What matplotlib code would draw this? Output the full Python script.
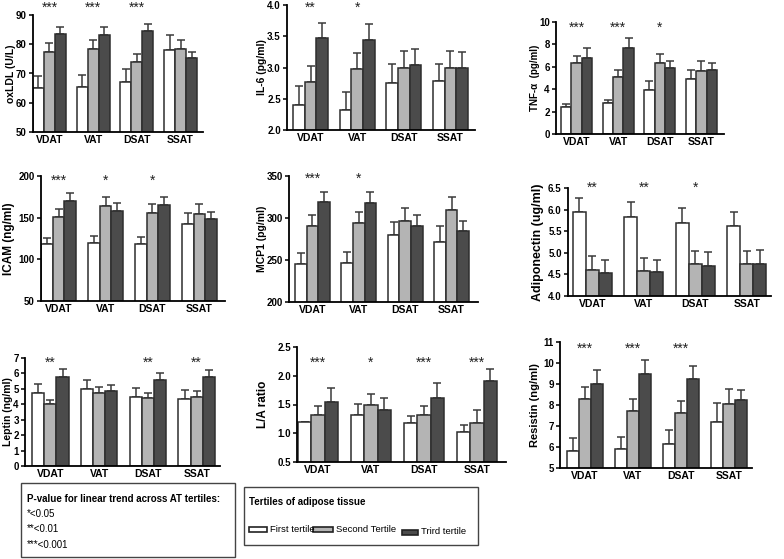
import matplotlib
matplotlib.use("Agg")
import matplotlib.pyplot as plt
from matplotlib.patches import Rectangle
import numpy as np

W, H = 784, 559

groups = ["VDAT", "VAT", "DSAT", "SSAT"]

# ---- data (mean and upper error) per tertile, per group ----
oxldl_t1 = [65, 65.5, 67, 78]
oxldl_t2 = [77.5, 78.5, 74, 78.3]
oxldl_t3 = [83.5, 83.3, 84.5, 75.3]
oxldl_e1 = [4.0, 4.0, 4.5, 5.3]
oxldl_e2 = [3.0, 3.0, 2.5, 3.2]
oxldl_e3 = [2.5, 2.7, 2.5, 2.2]
oxldl_stars = ["***", "***", "***", ""]

il6_t1 = [2.40, 2.32, 2.76, 2.79]
il6_t2 = [2.77, 2.98, 3.00, 2.99]
il6_t3 = [3.48, 3.44, 3.04, 3.00]
il6_e1 = [0.30, 0.29, 0.29, 0.27]
il6_e2 = [0.26, 0.25, 0.26, 0.28]
il6_e3 = [0.24, 0.25, 0.26, 0.25]
il6_stars = ["**", "*", "", ""]

tnf_t1 = [2.45, 2.8, 3.9, 4.9]
tnf_t2 = [6.3, 5.1, 6.3, 5.65]
tnf_t3 = [6.8, 7.7, 5.85, 5.7]
tnf_e1 = [0.2, 0.25, 0.8, 0.8]
tnf_e2 = [0.65, 0.6, 0.8, 0.85]
tnf_e3 = [0.85, 0.9, 0.65, 0.6]
tnf_stars = ["***", "***", "*", ""]

icam_t1 = [118, 120, 119, 143]
icam_t2 = [151, 164, 156, 155]
icam_t3 = [170, 158, 165, 149]
icam_e1 = [8, 8, 8, 13]
icam_e2 = [10, 11, 11, 12]
icam_e3 = [10, 10, 10, 8]
icam_stars = ["***", "*", "*", ""]

mcp_t1 = [245, 247, 280, 271]
mcp_t2 = [290, 294, 296, 310]
mcp_t3 = [319, 318, 291, 285]
mcp_e1 = [13, 13, 15, 20]
mcp_e2 = [14, 13, 16, 15]
mcp_e3 = [12, 13, 12, 11]
mcp_stars = ["***", "*", "", ""]

adipo_t1 = [5.95, 5.82, 5.68, 5.62]
adipo_t2 = [4.61, 4.58, 4.75, 4.74]
adipo_t3 = [4.53, 4.55, 4.69, 4.74]
adipo_e1 = [0.33, 0.35, 0.35, 0.33]
adipo_e2 = [0.31, 0.30, 0.30, 0.30]
adipo_e3 = [0.30, 0.28, 0.33, 0.33]
adipo_stars = ["**", "**", "*", ""]

leptin_t1 = [4.7, 5.0, 4.5, 4.35]
leptin_t2 = [4.0, 4.75, 4.4, 4.45]
leptin_t3 = [5.8, 4.85, 5.6, 5.75]
leptin_e1 = [0.6, 0.55, 0.55, 0.55]
leptin_e2 = [0.25, 0.4, 0.35, 0.4]
leptin_e3 = [0.5, 0.4, 0.45, 0.45]
leptin_stars = ["**", "", "**", "**"]

la_t1 = [1.20, 1.32, 1.17, 1.03]
la_t2 = [1.31, 1.50, 1.31, 1.18]
la_t3 = [1.55, 1.41, 1.62, 1.91]
la_e1 = [0.0, 0.19, 0.13, 0.11]
la_e2 = [0.16, 0.18, 0.17, 0.22]
la_e3 = [0.23, 0.21, 0.25, 0.21]
la_stars = ["***", "*", "***", "***"]

res_t1 = [5.82, 5.90, 6.15, 7.18]
res_t2 = [8.27, 7.70, 7.62, 8.03]
res_t3 = [8.98, 9.50, 9.22, 8.22]
res_e1 = [0.60, 0.58, 0.65, 0.92]
res_e2 = [0.58, 0.60, 0.55, 0.72]
res_e3 = [0.67, 0.62, 0.63, 0.51]
res_stars = ["***", "***", "***", ""]

panels = [
    ("oxLDL (U/L)", oxldl_t1, oxldl_t2, oxldl_t3, oxldl_e1, oxldl_e2, oxldl_e3, oxldl_stars,
     [50, 60, 70, 80, 90], "{:.0f}", (33, 15, 203, 132, 33, 197), 11, 7.5, 1.06),
    ("IL-6 (pg/ml)", il6_t1, il6_t2, il6_t3, il6_e1, il6_e2, il6_e3, il6_stars,
     [2.0, 2.5, 3.0, 3.5, 4.0], "{:.1f}", (287, 5, 475, 130, 293, 468), 262, 7.5, 0.98),
    ("TNF-α  (pg/ml)", tnf_t1, tnf_t2, tnf_t3, tnf_e1, tnf_e2, tnf_e3, tnf_stars,
     [0, 2, 4, 6, 8, 10], "{:.0f}", (556, 22, 724, 134, 561, 717), 535, 7, 0.95),
    ("ICAM (ng/ml)", icam_t1, icam_t2, icam_t3, icam_e1, icam_e2, icam_e3, icam_stars,
     [50, 100, 150, 200], "{:.0f}", (41, 176, 225, 301, 41, 217), 9, 8.5, 0.96),
    ("MCP1 (pg/ml)", mcp_t1, mcp_t2, mcp_t3, mcp_e1, mcp_e2, mcp_e3, mcp_stars,
     [200, 250, 300, 350], "{:.0f}", (289, 176, 478, 302, 295, 469), 262, 7.5, 0.975),
    ("Adiponectin (ug/ml)", adipo_t1, adipo_t2, adipo_t3, adipo_e1, adipo_e2, adipo_e3, adipo_stars,
     [4.0, 4.5, 5.0, 5.5, 6.0, 6.5], "{:.1f}", (568, 188, 771, 296, 573, 766), 538, 9, 1.0),
    ("Leptin (ng/ml)", leptin_t1, leptin_t2, leptin_t3, leptin_e1, leptin_e2, leptin_e3, leptin_stars,
     [0, 1, 2, 3, 4, 5, 6, 7], "{:.0f}", (25, 358, 220, 466, 32, 215), 8, 7.5, 0.955),
    ("L/A ratio", la_t1, la_t2, la_t3, la_e1, la_e2, la_e3, la_stars,
     [0.5, 1.0, 1.5, 2.0, 2.5], "{:.1f}", (297, 347, 506, 462, 298, 497), 263, 8.5, 0.86),
    ("Resistin (ng/ml)", res_t1, res_t2, res_t3, res_e1, res_e2, res_e3, res_stars,
     [5, 6, 7, 8, 9, 10, 11], "{:.0f}", (560, 342, 752, 468, 567, 747), 535, 8, 0.95),
]

colors = ["white", "#b4b4b4", "#4b4b4b"]
edge = "#2e2e2e"
FONT = ["Liberation Sans", "DejaVu Sans"]

fig = plt.figure(figsize=(W / 100, H / 100), dpi=100)

gpos = np.arange(4) * 4.0
for (lab, t1, t2, t3, e1, e2, e3, stars, yt, fmt, geo, lx, lsize, sfrac) in panels:
    A, top, E, bot, fb, lb = geo
    ax = fig.add_axes([A / W, 1 - bot / H, (E - A) / W, (bot - top) / H])
    u = (lb - fb) / 15.0
    ax.set_xlim(-1.5 - (fb - A) / u, 13.5 + (E - lb) / u)
    ax.set_ylim(yt[0], yt[-1])
    for k, (vals, errs) in enumerate(zip([t1, t2, t3], [e1, e2, e3])):
        x = gpos + (k - 1)
        ax.bar(x, vals, width=1.0, color=colors[k], edgecolor=edge, linewidth=1.1, zorder=2)
        ax.errorbar(x, vals, yerr=[np.zeros(4), errs], fmt="none", ecolor="#3a3a3a",
                    elinewidth=1.1, capsize=3, capthick=1.1, zorder=1)
    for i, s in enumerate(stars):
        if s:
            ax.text(gpos[i], sfrac, s, transform=ax.get_xaxis_transform(), ha="center",
                    va="center", fontsize=10, color="#222222", family=FONT, clip_on=False)
    ax.set_yticks(yt)
    ax.set_yticklabels([fmt.format(v) for v in yt], family=FONT, fontweight="bold", fontsize=7)
    ax.set_xticks(gpos)
    ax.set_xticklabels(groups, family=FONT, fontweight="bold", fontsize=7.5)
    ax.tick_params(axis="x", length=0, pad=2)
    ax.tick_params(axis="y", length=3, width=1.1, pad=1.5)
    for sp in ["top", "right"]:
        ax.spines[sp].set_visible(False)
    for sp in ["left", "bottom"]:
        ax.spines[sp].set_linewidth(1.3)
    ax.set_ylabel(lab, family=FONT, fontweight="bold", fontsize=lsize)
    ax.yaxis.label.set_va("center")
    ax.yaxis.set_label_coords((lx - A) / (E - A), 0.5)

# ---- legend boxes ----
def px_rect(x0, y0, x1, y1):
    r = Rectangle((x0 / W, 1 - y1 / H), (x1 - x0) / W, (y1 - y0) / H, transform=fig.transFigure,
                  facecolor="white", edgecolor="#444444", linewidth=1.0)
    fig.patches.append(r)

px_rect(21, 483, 235, 557)
fig.text(27 / W, 1 - 499 / H, "P-value for linear trend across AT tertiles:", family=FONT,
         fontweight="bold", fontsize=7, va="center", ha="left")
pv_labels = ["*<0.05", "**<0.01", "***<0.001"]
for i, t in enumerate(pv_labels):
    fig.text(27 / W, 1 - (514 + 15.5 * i) / H, t, family=FONT, fontsize=7, va="center", ha="left")

px_rect(244, 487, 478, 545)
fig.text(249 / W, 1 - 502 / H, "Tertiles of adipose tissue", family=FONT, fontweight="bold",
         fontsize=7, va="center", ha="left")
leg_items = ["First tertile", "Second Tertile", "Trird tertile"]
leg_x = [(249, 267, 270), (313, 333, 336), (402, 418, 421)]
leg_y = [529, 529, 532]
for k, (t, (r0, r1, tx)) in enumerate(zip(leg_items, leg_x)):
    yy = leg_y[k]
    r = Rectangle((r0 / W, 1 - (yy + 2.5) / H), (r1 - r0) / W, 5 / H, transform=fig.transFigure,
                  facecolor=colors[k], edgecolor="#222222", linewidth=1.2)
    fig.patches.append(r)
    fig.text(tx / W, 1 - yy / H, t, family=FONT, fontsize=6.8, va="center", ha="left")

fig.savefig("out.png", dpi=100)
